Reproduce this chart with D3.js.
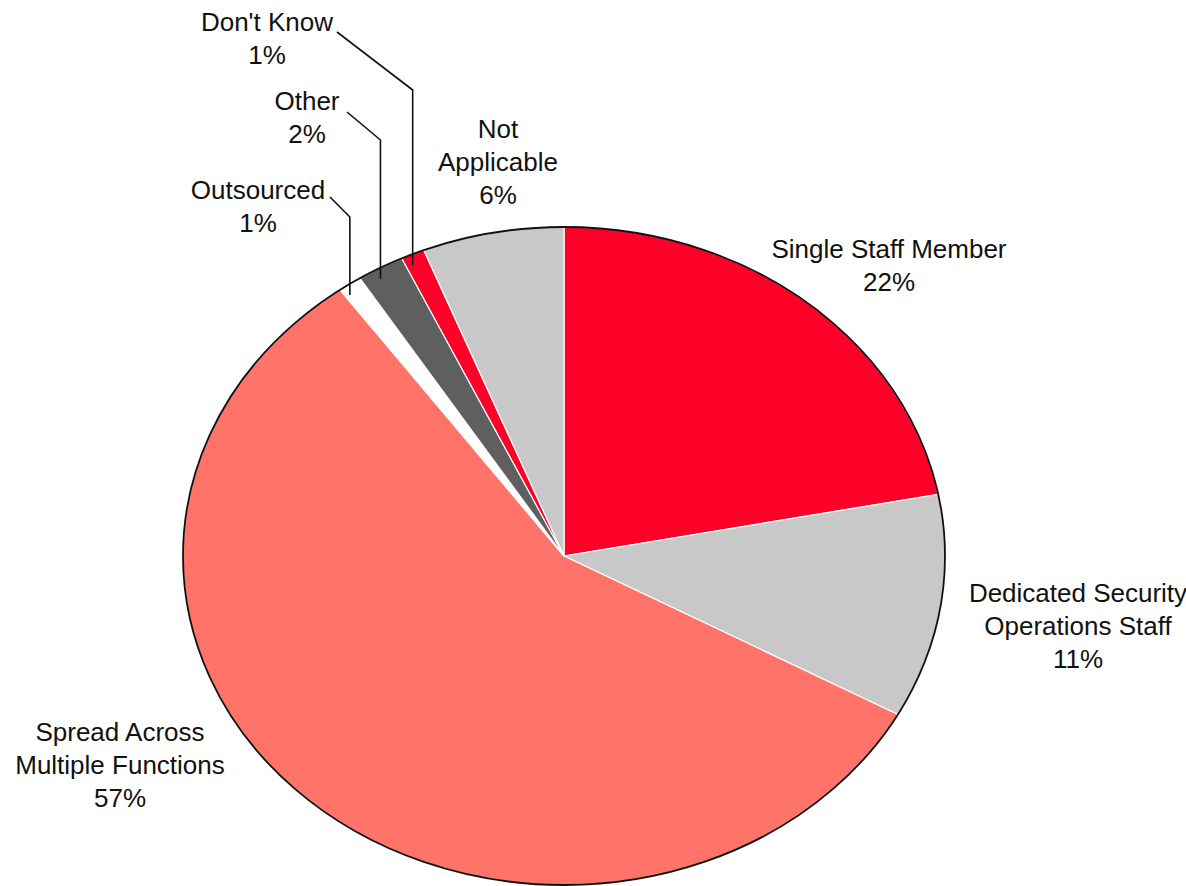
<!DOCTYPE html>
<html>
<head>
<meta charset="utf-8">
<script src="https://cdn.jsdelivr.net/npm/d3@7"></script>
<style>
  html, body { margin: 0; padding: 0; background: #ffffff; }
  svg { display: block; }
  text { font-family: "Liberation Sans", Arial, Helvetica, sans-serif; fill: #111111; }
</style>
</head>
<body>
<svg id="chart" width="1186" height="886"></svg>
<script>
// Survey responses: how security responsibilities are staffed (percent of respondents)
const categories = [
  "Single Staff Member",
  "Dedicated Security\nOperations Staff",
  "Spread Across\nMultiple Functions",
  "Outsourced",
  "Other",
  "Don't Know",
  "Not\nApplicable"
];
const values = [22, 11, 57, 1, 2, 1, 6];
const colors = ["#ff0029", "#c8c8c8", "#ff7368", "#ffffff", "#5f5f5f", "#ff0029", "#c8c8c8"];

// Label placement: centre x and first baseline y of each label block
const labelX = [889, 1078, 120, 258, 307, 267, 498];
const labelY = [258, 602, 741, 199, 110, 31, 138];
// Leader lines for the thin slices: [bend y, tail x, tail y]
const leaders = { 3: [217, 330, 197], 4: [140, 347, 112], 5: [90, 337, 32] };

const cx = 564, cy = 556, rx = 381, ry = 329;
const fontSize = 26, lineGap = 33;

const svg = d3.select("#chart");

const pie = d3.pie().sort(null).value(d => d.value);
const arcs = pie(values.map((v, i) => ({ value: v, name: categories[i], color: colors[i] })));
const arc = d3.arc().innerRadius(0).outerRadius(ry);

// Elliptical pie: circular arcs stretched horizontally
const pieG = svg.append("g")
  .attr("transform", `translate(${cx},${cy}) scale(${rx / ry},1)`);

pieG.selectAll("path.slice")
  .data(arcs)
  .join("path")
  .attr("class", "slice")
  .attr("d", arc)
  .attr("fill", d => d.data.color)
  .attr("stroke", "#ffffff")
  .attr("stroke-width", 1.2)
  .attr("vector-effect", "non-scaling-stroke");

pieG.append("ellipse")
  .attr("cx", 0).attr("cy", 0)
  .attr("rx", ry).attr("ry", ry)
  .attr("fill", "none")
  .attr("stroke", "#111111")
  .attr("stroke-width", 1.8)
  .attr("vector-effect", "non-scaling-stroke");

// Point on the ellipse rim at a pie angle (0 = 12 o'clock, clockwise)
const onEllipse = a => [cx + rx * Math.sin(a), cy - ry * Math.cos(a)];

// Leader lines: drop vertically from the label into the slice
Object.entries(leaders).forEach(([i, [bendY, tx, ty]]) => {
  const d = arcs[+i];
  const mid = (d.startAngle + d.endAngle) / 2;
  const [px, py] = onEllipse(mid);
  svg.append("path")
    .attr("d", d3.line()([[px, py + 11], [px, bendY], [tx, ty]]))
    .attr("fill", "none")
    .attr("stroke", "#111111")
    .attr("stroke-width", 1.6);
});

// Labels
arcs.forEach((d, i) => {
  const lines = d.data.name.split("\n").concat([d.data.value + "%"]);
  const t = svg.append("text")
    .attr("text-anchor", "middle")
    .attr("font-size", fontSize);
  lines.forEach((ln, j) => {
    t.append("tspan")
      .attr("x", labelX[i])
      .attr("y", labelY[i] + j * lineGap)
      .text(ln);
  });
});
</script>
</body>
</html>
